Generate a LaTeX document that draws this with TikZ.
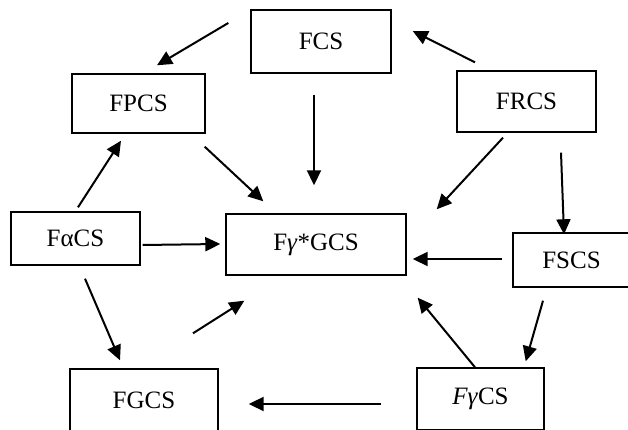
\documentclass[tikz,border=0pt]{standalone}
\usepackage{fontspec}
\setmainfont{Liberation Serif}
\usetikzlibrary{arrows.meta}

\begin{document}
\begin{tikzpicture}[x=1pt, y=1pt,
    box/.style={draw, line width=1.4pt, inner sep=0pt, font=\fontsize{25}{29}\selectfont},
    arr/.style={line width=2pt, -{Triangle[length=15pt,width=14pt]}}]
        \useasboundingbox (0,0) rectangle (628,430);

        \node[box, minimum width=140, minimum height=63] (fcs)  at (321,388.5) {FCS};
        \node[box, minimum width=133, minimum height=59] (fpcs) at (138.5,326.5) {FPCS};
        \node[box, minimum width=139, minimum height=61] (frcs) at (526.5,328.5) {FRCS};
        \node[box, minimum width=129, minimum height=53] (facs) at (75.5,191.5) {FαCS};
        \node[box, minimum width=180, minimum height=61] (fgcsx) at (316,185.5) {F\textit{γ}*GCS};
        \node[box, minimum width=117, minimum height=54] (fscs) at (571.5,170) {FSCS};
        \node[box, minimum width=148, minimum height=62] (fgcs) at (144,30) {FGCS};
        \node[box, minimum width=127, minimum height=62] (fycs) at (480.5,31) {\textit{Fγ}CS};

        \draw[arr] ([shift={(-22,18.5)}]fcs.west) -- ([shift={(18.5,8)}]fpcs.north);
        \draw[arr] ([shift={(-51.5,8)}]frcs.north) -- ([shift={(21,10.5)}]fcs.east);
        \draw[arr] ([shift={(-7,-21)}]fcs.south) -- ([shift={(-2,28)}]fgcsx.north);
        \draw[arr] ([shift={(-1,-13)}]fpcs.south east) -- ([shift={(38,12)}]fgcsx.north west);
        \draw[arr] ([shift={(-23.5,-5)}]frcs.south) -- ([shift={(30,4)}]fgcsx.north east);
        \draw[arr] ([shift={(34.5,-20)}]frcs.south) -- ([shift={(-7.5,-2)}]fscs.north);
        \draw[arr] ([shift={(2.5,4)}]facs.north) -- ([shift={(-17.5,-7)}]fpcs.south);
        \draw[arr] ([shift={(2,-6.5)}]facs.east) -- ([shift={(-5,0.5)}]fgcsx.west);
        \draw[arr] ([shift={(-10,1)}]fscs.west) -- ([shift={(6,-14.5)}]fgcsx.east);
        \draw[arr] ([shift={(9.5,-13)}]facs.south) -- ([shift={(-24,8)}]fgcs.north);
        \draw[arr] ([shift={(49,35)}]fgcs.north) -- ([shift={(19,-25)}]fgcsx.south west);
        \draw[arr] ([shift={(-5.5,0)}]fycs.north) -- ([shift={(11,-22)}]fgcsx.south east);
        \draw[arr] ([shift={(-28.5,-13)}]fscs.south) -- ([shift={(-19,6)}]fycs.north east);
        \draw[arr] ([shift={(-35,-5)}]fycs.west) -- ([shift={(30,-4)}]fgcs.east);
      \end{tikzpicture}
\end{document}
